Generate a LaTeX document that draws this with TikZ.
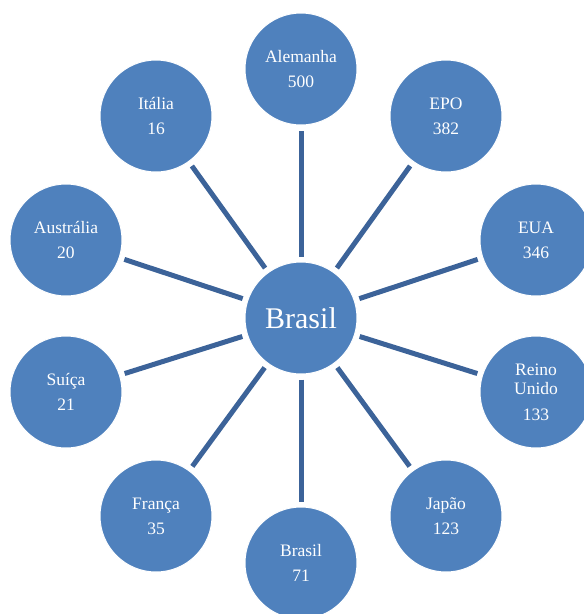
\documentclass[tikz,border=0pt]{standalone}
\usepackage{fontspec}
\setmainfont{Liberation Serif}
\definecolor{bolablue}{HTML}{4F81BD}
\definecolor{ligablue}{HTML}{3C6399}
\tikzset{
  pais/.style={circle, fill=bolablue, draw=white, line width=1pt,
    minimum size=112pt, inner sep=0pt, text=white, align=center,
    font=\fontsize{17.5}{19}\selectfont},
  liga/.style={draw=ligablue, line width=5pt, shorten <=5pt, shorten >=5pt}
}
\begin{document}
\begin{tikzpicture}[x=1pt, y=-1pt]
      \useasboundingbox (0, 0) rectangle (584, 614);
      \node (brasil) [pais, font=\fontsize{30}{32}\selectfont] at (301, 318) {Brasil};
      \node (alemanha) [pais] at (301, 69) {Alemanha\\[6pt]500};
      \node (epo) [pais] at (446, 116) {EPO\\[6pt]382};
      \node (eua) [pais] at (536, 240) {EUA\\[6pt]346};
      \node (reino) [pais] at (536, 392) {Reino\\Unido\\[7pt]133};
      \node (japao) [pais] at (446, 516) {Japão\\[6pt]123};
      \node (brasilbr) [pais] at (301, 563) {Brasil\\[6pt]71};
      \node (franca) [pais] at (156, 516) {França\\[6pt]35};
      \node (suica) [pais] at (66, 392) {Suíça\\[6pt]21};
      \node (australia) [pais] at (66, 240) {Austrália\\[6pt]20};
      \node (italia) [pais] at (156, 116) {Itália\\[6pt]16};
      \draw[liga] (brasil) -- (alemanha);
      \draw[liga] (brasil) -- (epo);
      \draw[liga] (brasil) -- (eua);
      \draw[liga] (brasil) -- (reino);
      \draw[liga] (brasil) -- (japao);
      \draw[liga] (brasil) -- (brasilbr);
      \draw[liga] (brasil) -- (franca);
      \draw[liga] (brasil) -- (suica);
      \draw[liga] (brasil) -- (australia);
      \draw[liga] (brasil) -- (italia);
\end{tikzpicture}
\end{document}
